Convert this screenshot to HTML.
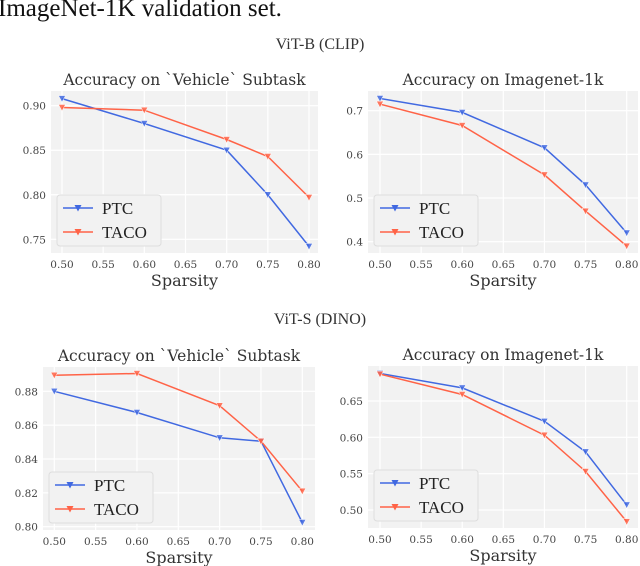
<!DOCTYPE html>
<html><head><meta charset="utf-8"><style>
html,body{margin:0;padding:0;background:#fff;width:640px;height:566px;overflow:hidden}
svg{display:block}
</style></head><body>
<svg id="fig" width="640" height="566" xmlns="http://www.w3.org/2000/svg" font-family="'DejaVu Serif', serif">
<text x="-2" y="16" font-family="'Liberation Serif', serif" font-size="25" fill="#111">ImageNet-1K validation set.</text>
<text x="320" y="49" text-anchor="middle" font-family="'Liberation Serif', serif" font-size="16" fill="#333">ViT-B (CLIP)</text>
<text x="320" y="324" text-anchor="middle" font-family="'Liberation Serif', serif" font-size="16" fill="#333">ViT-S (DINO)</text>
</svg>
<script>
const xCategories = [0.50, 0.60, 0.70, 0.75, 0.80];
const xTicks = ["0.50","0.55","0.60","0.65","0.70","0.75","0.80"];
const c1Ptc = [0.908, 0.880, 0.850, 0.800, 0.742];
const c1Taco = [0.898, 0.895, 0.862, 0.843, 0.797];
const c1YTicks = ["0.75","0.80","0.85","0.90"];
const c2Ptc = [0.728, 0.696, 0.615, 0.530, 0.420];
const c2Taco = [0.715, 0.666, 0.553, 0.470, 0.390];
const c2YTicks = ["0.4","0.5","0.6","0.7"];
const c3Ptc = [0.880, 0.8675, 0.8525, 0.8505, 0.8025];
const c3Taco = [0.8895, 0.8905, 0.8715, 0.8505, 0.821];
const c3YTicks = ["0.80","0.82","0.84","0.86","0.88"];
const c4Ptc = [0.688, 0.668, 0.622, 0.580, 0.507];
const c4Taco = [0.687, 0.659, 0.603, 0.553, 0.484];
const c4YTicks = ["0.50","0.55","0.60","0.65"];

const NS = "http://www.w3.org/2000/svg";
const svg = document.getElementById('fig');
function mk(tag, attrs, parent){const e=document.createElementNS(NS,tag);for(const k in attrs)e.setAttribute(k,attrs[k]);(parent||svg).appendChild(e);return e;}

function chart(cfg){
  const g = mk('g',{});
  
  
  const X = v => cfg.x0 + (v-0.5)/(0.3)*(cfg.x1-cfg.x0);
  const Y = v => cfg.yA + (v-cfg.vA)/(cfg.vB-cfg.vA)*(cfg.yB-cfg.yA);
  const bg = mk('rect',{x:cfg.L,y:cfg.T,width:cfg.R-cfg.L,height:cfg.B-cfg.T,fill:'#f2f2f2'},g);
  
  
  xTicks.forEach(t=>{
    const x=X(parseFloat(t));
    mk('line',{x1:x,x2:x,y1:cfg.T,y2:cfg.B,stroke:'#fff','stroke-width':1.2},g);
    const tx=mk('text',{x:x,y:cfg.B+15,'text-anchor':'middle','font-size':10.5,fill:'#444'},g);
    tx.textContent=t;
    
    
  });
  cfg.yTicks.forEach(t=>{
    const y=Y(parseFloat(t));
    mk('line',{x1:cfg.L,x2:cfg.R,y1:y,y2:y,stroke:'#fff','stroke-width':1.2},g);
    const tx=mk('text',{x:cfg.L-5,y:y+4,'text-anchor':'end','font-size':10.5,fill:'#444'},g);
    tx.textContent=t;
    
    
  });
  const ti=mk('text',{x:(cfg.L+cfg.R)/2,y:cfg.T-6,'text-anchor':'middle','font-size':15.5,fill:'#333'},g);
  ti.textContent=cfg.title;
  
  
  const xl=mk('text',{x:(cfg.L+cfg.R)/2,y:cfg.B+33,'text-anchor':'middle','font-size':16,fill:'#333'},g);
  xl.textContent='Sparsity';
  
  
  const series=[['ptc',cfg.ptc,'#4169e1'],['taco',cfg.taco,'#ff6347']];
  series.forEach(([n,vals,col])=>{
    const pts=vals.map((v,i)=>X(xCategories[i]).toFixed(1)+','+Y(v).toFixed(1)).join(' ');
    const pl=mk('polyline',{points:pts,fill:'none',stroke:col,'stroke-width':1.5},g);
    
    
    vals.forEach((v,i)=>{
      const x=X(xCategories[i]),y=Y(v);
      const m=mk('path',{d:`M${x-3.5},${y-3} L${x+3.5},${y-3} L${x},${y+3.5} Z`,fill:col,stroke:'#fff','stroke-width':0.5,'fill-opacity':0.85},g);
      
      
    });
  });
  const lg=mk('g',{},g);
  
  
  const lx=cfg.L+6, ly=cfg.B-58;
  mk('rect',{x:lx,y:ly,width:104,height:51,rx:3,fill:'#f2f2f2',stroke:'#ddd','stroke-width':1},lg);
  series.forEach(([n,vals,col],k)=>{
    const y=ly+13+k*24;
    mk('line',{x1:lx+6,x2:lx+36,y1:y,y2:y,stroke:col,'stroke-width':1.5},lg);
    mk('path',{d:`M${lx+17.5},${y-3} L${lx+24.5},${y-3} L${lx+21},${y+3.5} Z`,fill:col},lg);
    const t=mk('text',{x:lx+45,y:y+6,'font-size':17,fill:'#222','font-family':"'Liberation Serif', serif"},lg);
    t.textContent=n==='ptc'?'PTC':'TACO';
    
    
  });
}
chart({name:'chart-vitb-vehicle',title:'Accuracy on `Vehicle` Subtask',L:51,T:91,R:318,B:253,x0:62,x1:309,yA:105.7,vA:0.90,yB:239.3,vB:0.75,yTicks:c1YTicks,ptc:c1Ptc,taco:c1Taco});
chart({name:'chart-vitb-imagenet',title:'Accuracy on Imagenet-1k',L:368,T:91,R:638,B:253,x0:380,x1:626.7,yA:110.7,vA:0.7,yB:241.7,vB:0.4,yTicks:c2YTicks,ptc:c2Ptc,taco:c2Taco});
chart({name:'chart-vits-vehicle',title:'Accuracy on `Vehicle` Subtask',L:43,T:367,R:315,B:530,x0:54.3,x1:302.3,yA:391.3,vA:0.88,yB:526.7,vB:0.80,yTicks:c3YTicks,ptc:c3Ptc,taco:c3Taco});
chart({name:'chart-vits-imagenet',title:'Accuracy on Imagenet-1k',L:368,T:366,R:638,B:528,x0:380,x1:626.7,yA:401,vA:0.65,yB:510,vB:0.50,yTicks:c4YTicks,ptc:c4Ptc,taco:c4Taco});
</script>
</body></html>
